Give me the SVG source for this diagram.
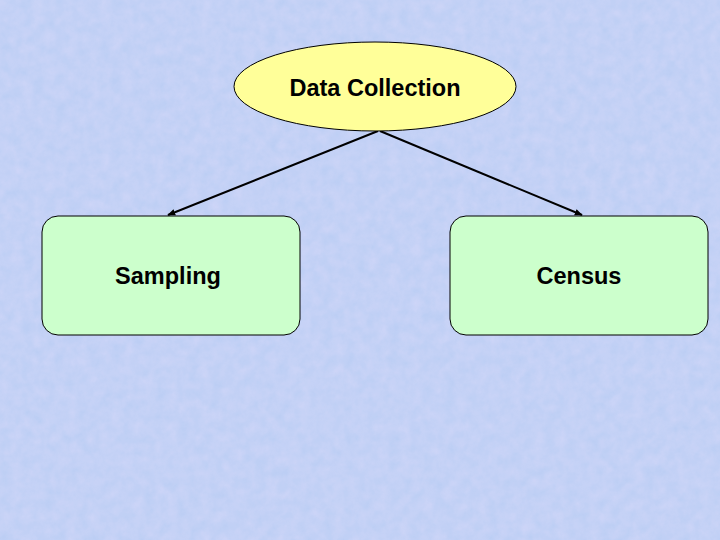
<svg xmlns="http://www.w3.org/2000/svg" width="720" height="540" viewBox="0 0 720 540">
  <defs>
    <style>
      .lbl { font-family: "Liberation Sans", Arial, sans-serif; font-size: 23.5px; font-weight: bold; fill: #000; text-anchor: middle; }
      .box { fill: #ccffcc; stroke: #000; stroke-width: 1; }
      .ell { fill: #ffff99; stroke: #000; stroke-width: 1; }
      .conn { stroke: #000; stroke-width: 2; fill: none; marker-end: url(#arrow); }
    </style>
    <marker id="arrow" viewBox="0 0 10 10" refX="9" refY="5" markerWidth="4" markerHeight="4" orient="auto" markerUnits="strokeWidth">
      <path d="M0,1 L10,5 L0,9 z" fill="#000"/>
    </marker>
    <filter id="tex" x="0" y="0" width="100%" height="100%">
      <feTurbulence type="fractalNoise" baseFrequency="0.09" numOctaves="3" seed="4" result="n"/>
      <feColorMatrix in="n" type="matrix" values="0 0 0 0 0.9  0 0 0 0 0.78  0 0 0 0 1  0.9 0 0 -0.2 0" />
    </filter>
  </defs>
  <rect width="720" height="540" fill="#bccef4"/>
  <rect width="720" height="540" filter="url(#tex)" opacity="0.4"/>
  <g id="connectors">
    <line class="conn" x1="378" y1="131" x2="168" y2="215"/>
    <line class="conn" x1="380" y1="131" x2="582" y2="215"/>
  </g>
  <g id="data-collection">
    <ellipse class="ell" cx="375" cy="86.5" rx="141" ry="44.5"/>
    <text class="lbl" x="375" y="96">Data Collection</text>
  </g>
  <g id="sampling">
    <rect class="box" x="42" y="216" width="258" height="119" rx="16" ry="16"/>
    <text class="lbl" x="168" y="284">Sampling</text>
  </g>
  <g id="census">
    <rect class="box" x="450" y="216" width="258" height="119" rx="16" ry="16"/>
    <text class="lbl" x="579" y="284">Census</text>
  </g>
</svg>
